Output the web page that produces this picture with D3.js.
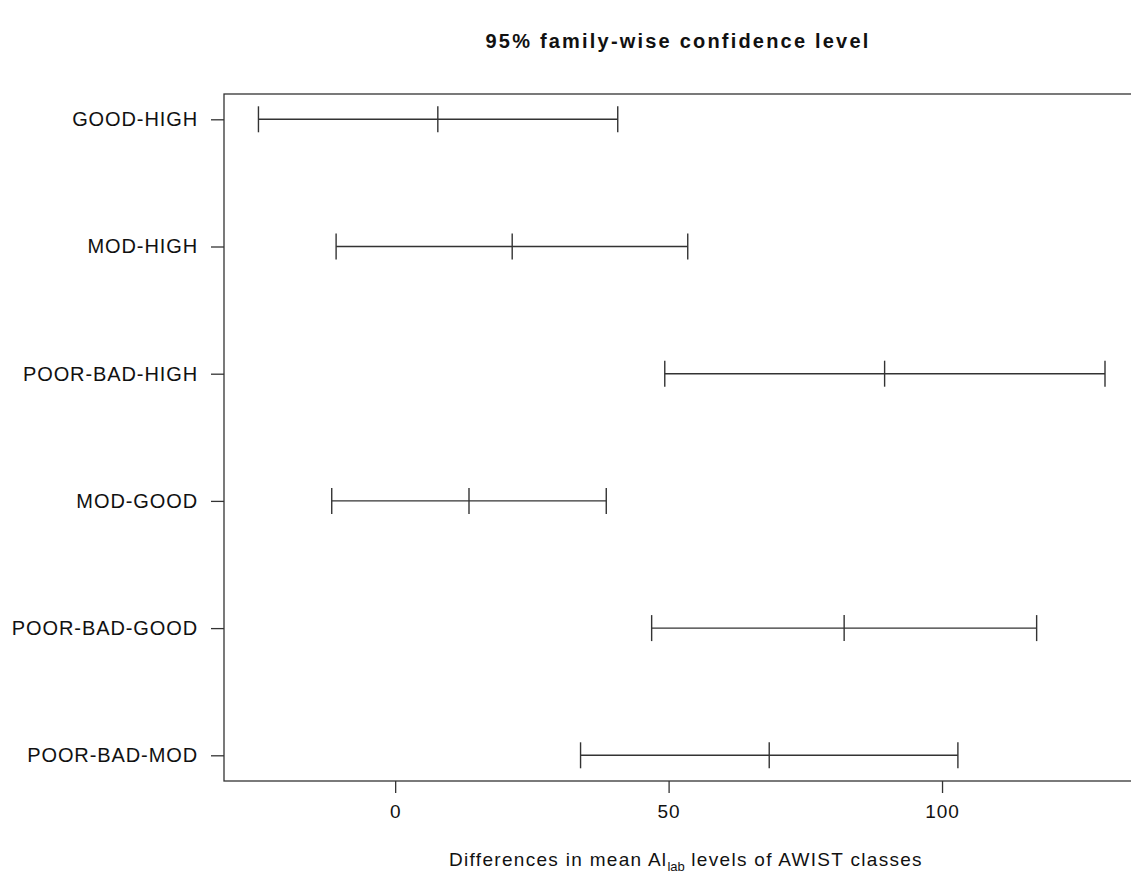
<!DOCTYPE html>
<html>
<head>
<meta charset="utf-8">
<script src="https://cdn.jsdelivr.net/npm/d3@7"></script>
<style>
body { margin:0; background:#fff; }
svg text { font-family: "Liberation Sans", Arial, sans-serif; fill:#111; }
</style>
</head>
<body>
<div id="chart"></div>
<script>
// comparisons, top to bottom
var comparisons = ["GOOD-HIGH","MOD-HIGH","POOR-BAD-HIGH","MOD-GOOD","POOR-BAD-GOOD","POOR-BAD-MOD"];
var diff = [7.8, 21.4, 89.5, 13.5, 82.1, 68.4];
var lwr  = [-25.0, -10.8, 49.3, -11.6, 46.9, 33.9];
var upr  = [40.7, 53.5, 129.8, 38.6, 117.3, 102.9];
var xTicks = [0, 50, 100];

var W = 1131, H = 886;
var mLeft = 224, mTop = 94, mRight = 1140, mBottom = 781;

var svg = d3.select("#chart").append("svg").attr("width",W).attr("height",H);

var x = d3.scaleLinear().domain([-31.3, 136.2]).range([mLeft, mRight]);
var y = d3.scalePoint().domain(comparisons).range([119.3, 755.3]);

var col = "#333";
var font = "Liberation Sans, Arial, sans-serif";

// box
svg.append("rect")
    .attr("x",mLeft).attr("y",mTop)
    .attr("width",mRight-mLeft).attr("height",mBottom-mTop)
    .attr("fill","none").attr("stroke",col).attr("stroke-width",1.3);

// x axis
var xa = svg.append("g").attr("transform","translate(0,"+mBottom+")")
    .call(d3.axisBottom(x).tickValues(xTicks).tickSize(12).tickPadding(12).tickFormat(d3.format("d")));
xa.select(".domain").remove();
xa.selectAll("line").attr("stroke",col).attr("stroke-width",1.3);
xa.selectAll("text").attr("font-size",19).attr("fill","#111")
    .style("font-family",font).style("letter-spacing","1px");

// y axis
var ya = svg.append("g").attr("transform","translate("+mLeft+",0)")
    .call(d3.axisLeft(y).tickSize(13).tickPadding(13));
ya.select(".domain").remove();
ya.selectAll("line").attr("stroke",col).attr("stroke-width",1.3);
ya.selectAll("text").attr("font-size",20).attr("fill","#111")
    .style("font-family",font).style("letter-spacing","0.9px");

// intervals
var data = comparisons.map(function(c,i){ return {name:c, diff:diff[i], lwr:lwr[i], upr:upr[i]}; });
var g = svg.append("g").selectAll("g").data(data).enter().append("g");
g.append("line")
    .attr("x1",function(d){return x(d.lwr);}).attr("x2",function(d){return x(d.upr);})
    .attr("y1",function(d){return y(d.name);}).attr("y2",function(d){return y(d.name);})
    .attr("stroke",col).attr("stroke-width",1.4);
["lwr","diff","upr"].forEach(function(k){
    g.append("line")
        .attr("x1",function(d){return x(d[k]);}).attr("x2",function(d){return x(d[k]);})
        .attr("y1",function(d){return y(d.name)-13;}).attr("y2",function(d){return y(d.name)+13;})
        .attr("stroke",col).attr("stroke-width",1.4);
});

// title
svg.append("text").attr("x",(mLeft+mRight)/2 - 4).attr("y",48)
    .attr("text-anchor","middle").attr("font-size",20).attr("font-weight","bold")
    .style("letter-spacing","2.2px")
    .text("95% family-wise confidence level");

// x label with subscript
var xl = svg.append("text").attr("x",(mLeft+mRight)/2 + 4).attr("y",866)
    .attr("text-anchor","middle").attr("font-size",19).style("letter-spacing","1.3px");
xl.append("tspan").text("Differences in mean Al");
xl.append("tspan").attr("font-size",13).attr("dy",5).style("letter-spacing","0px").text("lab");
xl.append("tspan").attr("dy",-5).text(" levels of AWIST classes");
</script>
</body>
</html>
